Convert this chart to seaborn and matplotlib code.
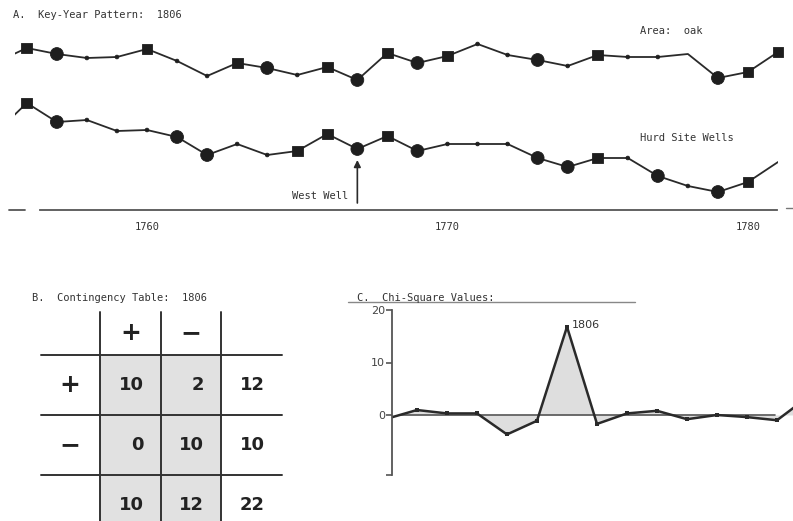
import numpy as np
import pandas as pd
import seaborn as sns
import matplotlib
matplotlib.use("Agg")
import matplotlib.pyplot as plt
from matplotlib.colors import ListedColormap
from matplotlib.lines import Line2D

# ---------------- data ----------------
years = list(range(1755, 1783))
# Panel A: ring-width index (arbitrary units), 1755..1782 (ends clipped)
oak_index = [158, 172, 166, 162, 163, 171, 159, 144, 157, 152, 145, 153, 140, 167,
             157, 164, 176, 165, 160, 154, 165, 163, 163, 166, 142, 148, 168, 158]
hurd_index = [88, 117, 98, 100, 89, 90, 83, 65, 76, 65, 69, 86, 71, 84,
              69, 76, 76, 76, 62, 53, 62, 62, 44, 34, 28, 38, 58, 35]
# marker class per year: S = positive key year, C = negative, D = neutral, N = none
oak_class = ["N", "S", "C", "D", "D", "S", "D", "D", "S", "C", "D", "S", "C", "S",
             "C", "S", "D", "D", "C", "D", "S", "D", "D", "N", "C", "S", "S", "N"]
hurd_class = ["N", "S", "C", "D", "D", "D", "C", "C", "D", "D", "S", "S", "C", "S",
              "C", "D", "D", "D", "C", "C", "S", "D", "C", "D", "C", "S", "N", "N"]
tick_years = [1760, 1770, 1780]

# Panel B: contingency table
col_labels = ["+", "\u2212"]
row_labels = ["+", "\u2212"]
table_values = [[10, 2, 12],
                [0, 10, 10],
                [10, 12, 22]]

# Panel C: chi-square values
chi_years = list(range(1800, 1815))
chi_values = [-0.7, 0.95, 0.3, 0.3, -3.7, -1.1, 16.8, -1.7, 0.3, 0.8, -0.8, 0.0, -0.4, -1.0, 3.3]
chi_ticks = [-11.5, 0, 10, 20]
chi_ticklabels = ["", "0", "10", "20"]

# ---------------- figure ----------------
W, H = 793, 521
sns.set_style("white")
plt.rcParams["font.family"] = ["DejaVu Sans"]
fig = plt.figure(figsize=(W / 100, H / 100), dpi=100)
ink = "#2a2a2a"
mono = "DejaVu Sans Mono"


def fx(px):
    return px / W


def fy(py):
    return 1 - py / H


# ---------------- Panel A ----------------
pxA0, pxA1 = 15, 778
axA = fig.add_axes([fx(pxA0), fy(210), fx(pxA1 - pxA0), 210 / H])
axA.set_facecolor("none")
x0 = 1760 - (147 - pxA0) / 30.05
x1 = 1760 + (pxA1 - 147) / 30.05
axA.set_xlim(x0, x1)
axA.set_ylim(10, 220)

for vals, cls in [(oak_index, oak_class), (hurd_index, hurd_class)]:
    df = pd.DataFrame({"year": years, "value": vals, "cls": cls})
    sns.lineplot(data=df, x="year", y="value", ax=axA, color=ink, lw=1.3,
                 legend=False)
    dm = df[df["cls"] != "N"]
    sns.scatterplot(data=dm, x="year", y="value", style="cls", size="cls",
                    markers={"S": "s", "C": "o", "D": "o"},
                    sizes={"S": 60, "C": 85, "D": 7},
                    color="#1e1e1e", edgecolor="#1e1e1e", linewidth=0.6,
                    ax=axA, legend=False, zorder=3, clip_on=False)

for s in ["top", "right", "left"]:
    axA.spines[s].set_visible(False)
axA.spines["bottom"].set_color("#555555")
axA.spines["bottom"].set_linewidth(1.3)
axA.spines["bottom"].set_bounds(1756.45, 1780.95)
axA.axhline(10, xmin=(1755.4 - x0) / (x1 - x0), xmax=(1755.95 - x0) / (x1 - x0),
            color="#555555", lw=1.3, clip_on=False)
axA.axhline(12, xmin=(1781.25 - x0) / (x1 - x0), xmax=(1781.5 - x0) / (x1 - x0),
            color="#777777", lw=1.0, clip_on=False)
axA.set_yticks([])
axA.set_xticks(tick_years)
axA.set_xticklabels([str(t) for t in tick_years], family=mono, fontsize=7.5,
                    color="#333333")
axA.tick_params(axis="x", direction="inout", length=8, width=1.3, color="#444444",
                pad=5)
axA.set_xlabel("")
axA.set_ylabel("")

axA.annotate("", xy=(1767, 60), xytext=(1767, 17),
             arrowprops=dict(arrowstyle="-|>", color=ink, lw=1.2,
                             mutation_scale=10, shrinkA=0, shrinkB=0))
axA.text(1766.7, 24, "West Well", ha="right", va="center", family=mono,
         fontsize=7.5, color="#333333")

fig.text(fx(13), fy(15), "A.  Key-Year Pattern:  1806", family=mono, fontsize=7.5,
         color="#333333", va="center", ha="left")
fig.text(fx(640), fy(31), "Area:  oak", family=mono, fontsize=7.5,
         color="#333333", va="center", ha="left")
fig.text(fx(640), fy(138), "Hurd Site Wells", family=mono, fontsize=7.5,
         color="#333333", va="center", ha="left")

# ---------------- Panel B ----------------
fig.text(fx(32), fy(298), "B.  Contingency Table:  1806", family=mono, fontsize=7.5,
         color="#333333", va="center", ha="left")

axB = fig.add_axes([fx(100), fy(355 + 3 * 60), fx(182), 180 / H])
shade = np.array([[1, 1, 0], [1, 1, 0], [1, 1, 0]])
sns.heatmap(shade, ax=axB, cmap=ListedColormap(["white", "#e1e1e1"]),
            cbar=False, annot=np.array(table_values), fmt="d",
            annot_kws=dict(fontsize=13, fontweight="bold", color="#222222"),
            xticklabels=False, yticklabels=False, linewidths=0)
for t in axB.texts:
    x, y = t.get_position()
    t.set_position((x + 0.22, y))
    t.set_ha("right")
axB.set_xlim(0, 3)
axB.set_ylim(3, 0)
line_kw = dict(color="#333333", lw=1.4, clip_on=False)
for xv in [0, 1, 2]:
    axB.plot([xv, xv], [-0.72, 3], **line_kw)
for yv in [0, 1, 2]:
    axB.plot([-0.97, 3], [yv, yv], **line_kw)
for i, lab in enumerate(col_labels):
    axB.text(i + 0.5, -0.36, lab, ha="center", va="center", fontsize=18,
             fontweight="bold", color="#222222", clip_on=False)
for j, lab in enumerate(row_labels):
    axB.text(-0.5, j + 0.5, lab, ha="center", va="center", fontsize=18,
             fontweight="bold", color="#222222", clip_on=False)
for s in axB.spines.values():
    s.set_visible(False)

# ---------------- Panel C ----------------
fig.text(fx(357), fy(298), "C.  Chi-Square Values:", family=mono, fontsize=7.5,
         color="#333333", va="center", ha="left")
fig.add_artist(Line2D([fx(348), fx(635)], [fy(302), fy(302)], color="#888888",
                      lw=1.0))

px_per_unit = 5.25
c_top, c_bot = 302, 480
cx0 = 1806 - (567 - 392) / 30.0
cx1 = 1806 + (W - 567) / 30.0
axC = fig.add_axes([fx(392), fy(c_bot), 1 - fx(392), (c_bot - c_top) / H])
axC.set_facecolor("none")
axC.set_xlim(cx0, cx1)
axC.set_ylim(-(c_bot - 415) / px_per_unit, (415 - c_top) / px_per_unit)

dfc = pd.DataFrame({"year": chi_years, "chi": chi_values})
axC.fill_between(dfc["year"], dfc["chi"], 0, color="#dedede", lw=0)
axC.axhline(0, xmin=(1800.43 - cx0) / (cx1 - cx0), xmax=(1812.93 - cx0) / (cx1 - cx0),
            color="#555555", lw=1.2)
sns.lineplot(data=dfc, x="year", y="chi", ax=axC, color=ink, lw=1.8,
             marker="s", markersize=3, markeredgewidth=0, legend=False)
peak = int(np.argmax(chi_values))
axC.text(chi_years[peak] + 0.15, chi_values[peak] + 0.3, str(chi_years[peak]),
         fontsize=8, color="#333333", ha="left", va="center")

for s in ["top", "right", "bottom"]:
    axC.spines[s].set_visible(False)
axC.spines["left"].set_color("#555555")
axC.spines["left"].set_linewidth(1.3)
axC.spines["left"].set_bounds(-11.5, 20)
axC.set_xticks([])
axC.set_yticks(chi_ticks)
axC.set_yticklabels(chi_ticklabels, fontsize=8, color="#444444")
axC.tick_params(axis="y", direction="out", length=4, width=1.2, color="#555555",
                pad=1, left=True)
axC.set_xlabel("")
axC.set_ylabel("")

fig.savefig("out.png", dpi=100, facecolor="white")
